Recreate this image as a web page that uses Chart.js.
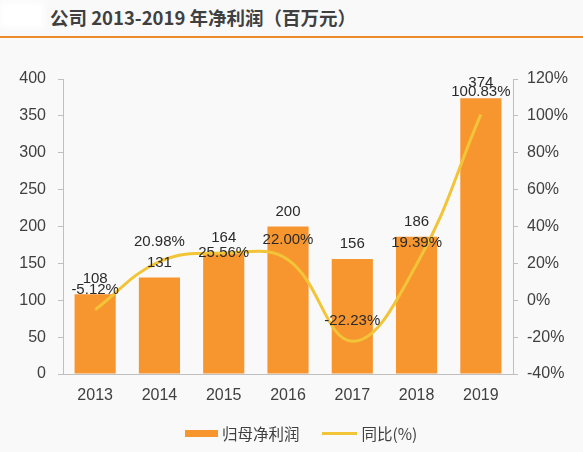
<!doctype html>
<html lang="zh">
<head>
<meta charset="utf-8">
<title>公司 2013-2019 年净利润</title>
<script src="https://cdn.jsdelivr.net/npm/chart.js@4.4.1/dist/chart.umd.min.js"></script>
<style>
  * { box-sizing: border-box; margin: 0; padding: 0; }
  html, body { width: 583px; height: 452px; overflow: hidden; background: #f9f9f9; }
  body { position: relative; font-family: "Liberation Sans", Arial, sans-serif; color: #404040; }
  .logo { position: absolute; left: 0; top: 2px; width: 44px; height: 26px; background: #fff; filter: blur(3px); }
  .title { position: absolute; left: 50px; top: 4px; font: bold 18.5px "Noto Sans CJK SC", sans-serif; color: #404040; white-space: nowrap; }
  .rule { position: absolute; left: 0; top: 36px; width: 583px; height: 2px; background: #ef8a2a; }
  #wrap { position: absolute; left: 0; top: 0; width: 583px; height: 452px; }
  .legend { position: absolute; top: 422px; left: 185px; display: flex; align-items: center; font: 15.5px "Noto Sans CJK SC", sans-serif; color: #404040; }
  .legend .bx { width: 33px; height: 7px; background: #f7952f; margin-right: 4px; }
  .legend .ln { width: 35px; height: 3px; background: #f2c438; margin: 0 5px 0 22px; }
</style>
</head>
<body>
<div class="logo"></div>
<div class="title">公司 2013-2019 年净利润（百万元）</div>
<div class="rule"></div>
<div id="wrap"><canvas id="c" width="583" height="452"></canvas></div>
<div class="legend"><span class="bx"></span><span>归母净利润</span><span class="ln"></span><span>同比(%)</span></div>
<script>
  const years = ["2013", "2014", "2015", "2016", "2017", "2018", "2019"];
  const profit = [108, 131, 164, 200, 156, 186, 374];
  const growth = [-5.12, 20.98, 25.56, 22.00, -22.23, 19.39, 100.83];
  const leftTicks = [0, 50, 100, 150, 200, 250, 300, 350, 400];
  const rightTicks = [-40, -20, 0, 20, 40, 60, 80, 100, 120];

  const orange = "#f7952f", yellow = "#f2c438", axis = "#bfbfbf", txt = "#404040";
  const lineDy = [-20, -20, 0, -20, -20, -22, -22];

  const labels = {
    id: "labels",
    afterDatasetsDraw(chart) {
      const ctx = chart.ctx;
      ctx.save();
      ctx.font = "15px 'Liberation Sans', Arial, sans-serif";
      ctx.fillStyle = "#2a2a2a";
      ctx.textAlign = "center";
      ctx.textBaseline = "middle";
      chart.getDatasetMeta(1).data.forEach((b, i) => {
        ctx.fillText(String(profit[i]), b.x, b.y - 15);
      });
      chart.getDatasetMeta(0).data.forEach((p, i) => {
        ctx.fillText(growth[i].toFixed(2) + "%", p.x, p.y + lineDy[i]);
      });
      ctx.restore();
    }
  };

  Chart.defaults.font.family = "'Liberation Sans', Arial, sans-serif";
  Chart.defaults.font.size = 16;
  Chart.defaults.color = txt;

  new Chart(document.getElementById("c"), {
    data: {
      labels: years,
      datasets: [
        { type: "line", label: "同比(%)", data: growth, yAxisID: "y1", borderColor: yellow,
          borderWidth: 3, pointRadius: 0, tension: 0.4, order: 0 },
        { type: "bar", label: "归母净利润", data: profit, yAxisID: "y", backgroundColor: orange,
          categoryPercentage: 1, barPercentage: 0.64, order: 1 }
      ]
    },
    options: {
      responsive: false, animation: false,
      layout: { padding: { top: 79, bottom: 38, left: 0, right: 0 } },
      plugins: { legend: { display: false }, tooltip: { enabled: false } },
      scales: {
        x: {
          grid: { display: false },
          border: { color: axis },
          ticks: { padding: 4, color: txt },
          afterFit(s) { s.height = 40; }
        },
        y: {
          position: "left", min: 0, max: 400,
          afterBuildTicks(s) { s.ticks = leftTicks.map(v => ({ value: v })); },
          grid: { drawOnChartArea: false, tickLength: 5, color: axis },
          border: { color: axis },
          ticks: { padding: 12, color: txt },
          afterFit(s) { s.width = 63; }
        },
        y1: {
          position: "right", min: -40, max: 120,
          afterBuildTicks(s) { s.ticks = rightTicks.map(v => ({ value: v })); },
          grid: { drawOnChartArea: false, tickLength: 5, color: axis },
          border: { color: axis },
          ticks: { padding: 9, color: txt, callback: v => v + "%" },
          afterFit(s) { s.width = 70; }
        }
      }
    },
    plugins: [labels]
  });
</script>
</body>
</html>
